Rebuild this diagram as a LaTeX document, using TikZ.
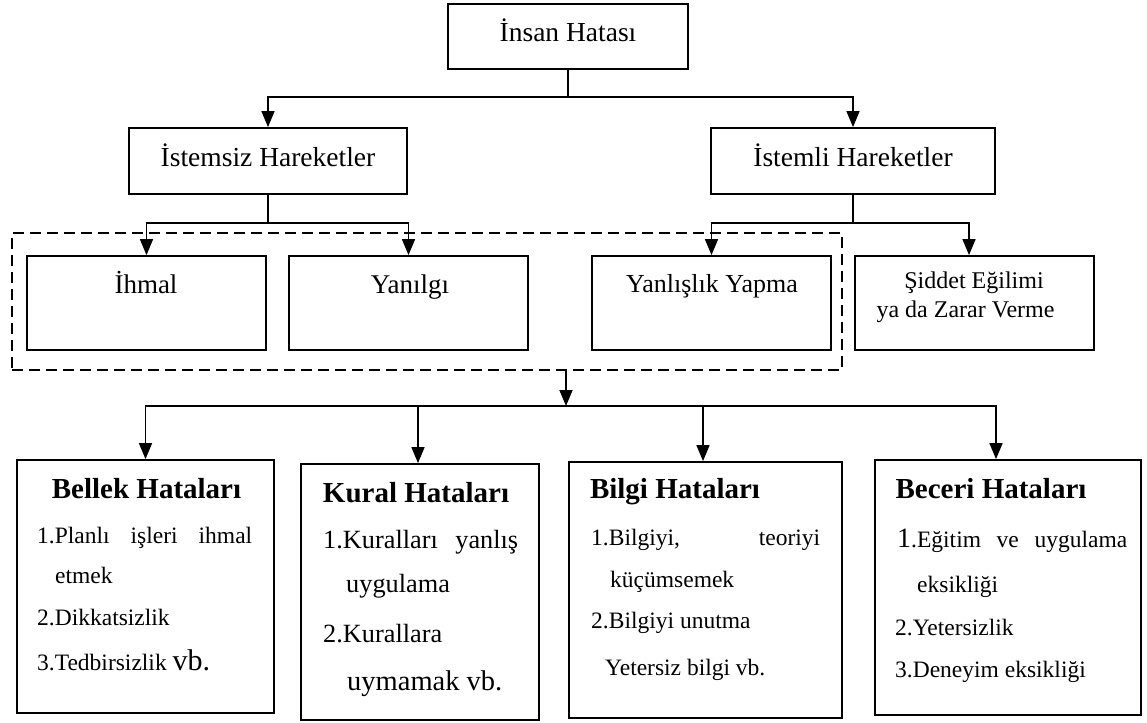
\documentclass[tikz,border=0pt]{standalone}
\usepackage{fontspec}
\setmainfont{Liberation Serif}
\usetikzlibrary{arrows.meta}
\newcommand{\setfs}[1]{\fontsize{#1}{#1}\selectfont}
\begin{document}
\begin{tikzpicture}[x=1pt,y=-1pt,
  box/.style={draw, line width=1.8pt, inner sep=0pt},
  dashbox/.style={draw, line width=2pt, dash pattern=on 11pt off 6pt, inner sep=0pt},
  conn/.style={line width=1.6pt},
  thin/.style={line width=1.1pt},
  arr/.style={conn, -{Triangle[width=13pt,length=16pt]}},
  lbl/.style={inner sep=0pt, anchor=base},
  title/.style={inner sep=0pt, anchor=base, font=\bfseries\setfs{29}},
  body/.style={inner sep=0pt, anchor=base west, font=\setfs{23.5}}]
\useasboundingbox (0,0) rectangle (1147,722);

% ---- boxes ----
\node[box, minimum width=240pt, minimum height=65pt] (top) at (568,36.5) {};
\node[box, minimum width=278pt, minimum height=66pt] (ist1) at (268,161) {};
\node[box, minimum width=284pt, minimum height=66pt] (ist2) at (853,161) {};
\node[box, minimum width=239pt, minimum height=94pt] (ihmal) at (146.5,303) {};
\node[box, minimum width=239pt, minimum height=94pt] (yanilgi) at (408.5,303) {};
\node[box, minimum width=239pt, minimum height=94pt] (yanlis) at (711.5,303) {};
\node[box, minimum width=239pt, minimum height=94pt] (siddet) at (974.5,303) {};
\node[dashbox, minimum width=830pt, minimum height=137pt] (grp) at (427,301.5) {};
\node[box, minimum width=257pt, minimum height=253pt] (bellek) at (145.5,586.5) {};
\node[box, minimum width=238pt, minimum height=256pt] (kural) at (420,592) {};
\node[box, minimum width=273pt, minimum height=256pt] (bilgi) at (705.5,590) {};
\node[box, minimum width=266pt, minimum height=255pt] (beceri) at (1008,587.5) {};

% ---- labels of the upper levels ----
\node[lbl, font=\setfs{27.5}] (tTop) at (568,42) {İnsan Hatası};
\node[lbl, font=\setfs{27.5}] (tIst1) at (268,167) {İstemsiz Hareketler};
\node[lbl, font=\setfs{27.5}] (tIst2) at (853,167) {İstemli Hareketler};
\node[lbl, font=\setfs{27}] (tIhmal) at (146,293) {İhmal};
\node[lbl, font=\setfs{27}] (tYanilgi) at (410,293) {Yanılgı};
\node[lbl, font=\setfs{26}] (tYanlis) at (712,292) {Yanlışlık Yapma};
\node[lbl, font=\setfs{24}] (tSid1) at (974,288) {Şiddet Eğilimi};
\node[lbl, font=\setfs{24}] (tSid2) at (965.5,317) {ya da Zarar Verme};

% ---- connectors ----
\coordinate (j1) at (568,97);
\coordinate (j2) at (268,223);
\coordinate (j3) at (853,223);
\coordinate (j4) at (566,406);
\draw[thin] (top.south) -- (j1);
\draw[arr] (j1) -| (ist1.north);
\draw[arr] (j1) -| (ist2.north);
\draw[conn] (ist1.south) -- (j2);
\draw[arr] (j2) -| (ihmal.north);
\draw[arr] (j2) -| (yanilgi.north);
\draw[conn] (ist2.south) -- (j3);
\draw[arr] (j3) -| (yanlis.north);
\draw[arr] (j3) -| ([xshift=-5.5pt]siddet.north);
\draw[arr] ([xshift=139pt]grp.south) -- (j4);
\draw[arr] (j4) -| (bellek.north);
\draw[arr] (j4) -| ([xshift=-2pt]kural.north);
\draw[arr] (j4) -| ([xshift=-2.5pt]bilgi.north);
\draw[arr] (j4) -| ([xshift=-12pt]beceri.north);

% ---- Bellek Hataları ----
\node[title] (hBellek) at (146.5,498) {Bellek Hataları};
\node[body] (b1) at (37,543) {\makebox[215pt][s]{1.Planlı işleri ihmal}};
\node[body] (b2) at (55,583) {etmek};
\node[body] (b3) at (37,625) {2.Dikkatsizlik};
\node[body] (b4) at (37,670) {3.Tedbirsizlik {\setfs{30}vb.}};

% ---- Kural Hataları ----
\node[title] (hKural) at (416,502) {Kural Hataları};
\node[body, font=\setfs{26.3}] (k1) at (323,548) {\makebox[195pt][s]{1.Kuralları yanlış}};
\node[body, font=\setfs{26.3}] (k2) at (346,592) {uygulama};
\node[body, font=\setfs{26.3}] (k3) at (323,642) {2.Kurallara};
\node[body, font=\setfs{28.5}] (k4) at (347,690) {uymamak vb.};

% ---- Bilgi Hataları ----
\node[title] (hBilgi) at (675,498) {Bilgi Hataları};
\node[body] (g1) at (591,545) {\makebox[229pt][s]{1.Bilgiyi, teoriyi}};
\node[body] (g2) at (610,587) {küçümsemek};
\node[body] (g3) at (591,628) {2.Bilgiyi unutma};
\node[body] (g4) at (605,675) {Yetersiz bilgi vb.};

% ---- Beceri Hataları ----
\node[title] (hBeceri) at (991,498) {Beceri Hataları};
\node[body] (c1) at (897,547) {\makebox[230pt][s]{{\setfs{28}1}.Eğitim ve uygulama}};
\node[body] (c2) at (917,592) {eksikliği};
\node[body] (c3) at (895,635) {2.Yetersizlik};
\node[body] (c4) at (895,677) {3.Deneyim eksikliği};
\end{tikzpicture}
\end{document}
